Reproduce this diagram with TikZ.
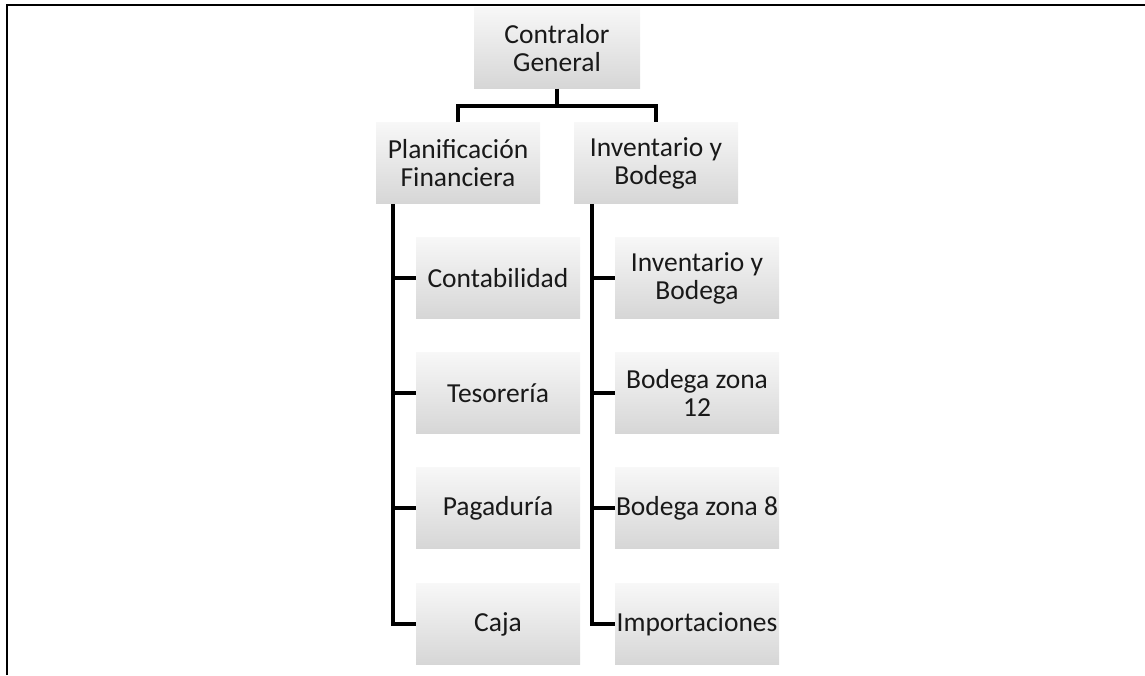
\documentclass[tikz,border=0pt]{standalone}
\usepackage{fontspec}
\setmainfont{Carlito}
\begin{document}
\begin{tikzpicture}[x=1pt,y=-1pt,
  unit/.style={rectangle, inner sep=0pt, align=center,
    top color=gray!6, bottom color=gray!32, draw=none,
    minimum width=164pt, minimum height=81pt,
    font=\fontsize{27.5}{28}\selectfont, text=black!90},
  link/.style={line width=3.2pt, draw=black},
  frameline/.style={line width=2.5pt, draw=black}]
\useasboundingbox (0,0) rectangle (1145,675);
% page frame
\draw[frameline] (7,675) -- (7,5) -- (1145,5);

% boxes
\node[unit, minimum width=166pt] (cg) at (557,48) {Contralor\\General};
\node[unit] (pf) at (458,163) {Planificación\\Financiera};
\node[unit] (ib) at (656,163) {Inventario y\\Bodega};

\node[unit] (cont) at (498,278) {Contabilidad};
\node[unit] (teso) at (498,393) {Tesorería};
\node[unit] (paga) at (498,508) {Pagaduría};
\node[unit] (caja) at (498,624) {Caja};

\node[unit] (inv)  at (697,278) {Inventario y\\Bodega};
\node[unit] (b12)  at (697,393) {Bodega zona\\12};
\node[unit] (b8)   at (697,508) {Bodega zona 8};
\node[unit] (imp)  at (697,624) {Importaciones};

% top level connectors
\coordinate (hub) at (557,106);
\draw[link] (cg.south) -- (hub);
\draw[link] (pf.north) |- (hub) -| (ib.north);

% left branch
\coordinate (ls) at (393,204);
\draw[link] (ls) |- (caja.west);
\foreach \c in {cont,teso,paga}
  \draw[link] (ls |- \c.west) -- (\c.west);

% right branch
\coordinate (rs) at (592,204);
\draw[link] (rs) |- (imp.west);
\foreach \c in {inv,b12,b8}
  \draw[link] (rs |- \c.west) -- (\c.west);
\end{tikzpicture}
\end{document}
